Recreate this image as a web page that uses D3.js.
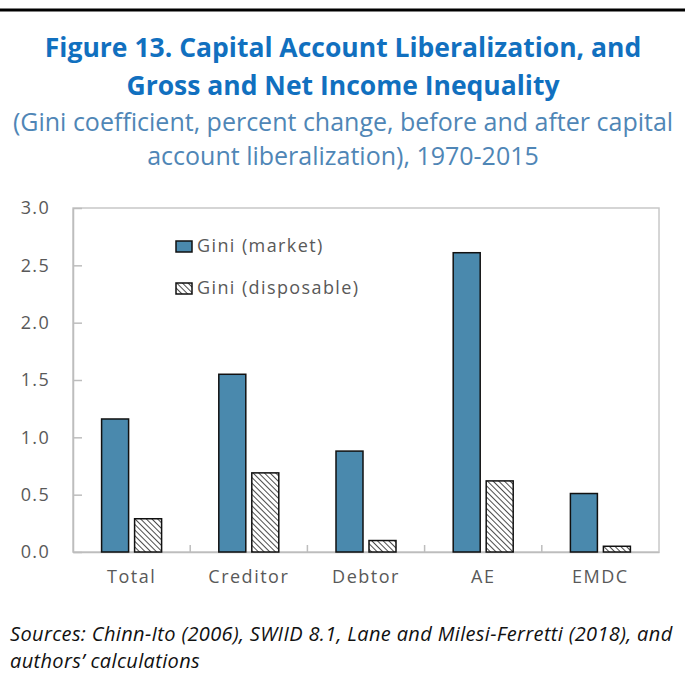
<!DOCTYPE html>
<html>
<head>
    <title></title>
    <meta charset="utf-8" />
    <style>
        body { margin: 0; background: #fff; }
    </style>
    <script src="https://d3js.org/d3.v7.min.js"></script>
</head>
<body>
<svg id="main-graph"></svg>
<script>

let categories = ["Total", "Creditor", "Debtor", "AE", "EMDC"];
let giniMarket = [1.16, 1.55, 0.88, 2.61, 0.51];
let giniDisposable = [0.29, 0.69, 0.10, 0.62, 0.05];
let seriesNames = ["Gini (market)", "Gini (disposable)"];
let yTicks = [0, 0.5, 1.0, 1.5, 2.0, 2.5, 3.0];

let realW = 685;
let realH = 688;

let svg = d3.select("#main-graph")
    .attr("width", realW)
    .attr("height", realH)
    .style("display", "block");

// hatch pattern for disposable
let defs = svg.append("defs");
let pat = defs.append("pattern")
    .attr("id", "hatch")
    .attr("patternUnits", "userSpaceOnUse")
    .attr("width", 4)
    .attr("height", 4)
    .attr("patternTransform", "rotate(-45)");
pat.append("rect").attr("width", 4).attr("height", 4).attr("fill", "#fff");
pat.append("line")
    .attr("x1", 0).attr("y1", 0).attr("x2", 0).attr("y2", 4)
    .attr("stroke", "#000").attr("stroke-width", 1.4);

// top rule
svg.append("line")
    .attr("x1", 0).attr("x2", realW)
    .attr("y1", 10).attr("y2", 10)
    .attr("stroke", "#000").attr("stroke-width", 3);

/* titles */
let titleFont = "'Open Sans', sans-serif";
svg.append("text")
    .attr("x", 343).attr("y", 57)
    .attr("text-anchor", "middle")
    .style("font-family", titleFont).style("font-weight", 700)
    .style("font-size", "26.5px").style("fill", "#1170bf")
    .text("Figure 13. Capital Account Liberalization, and");
svg.append("text")
    .attr("x", 343).attr("y", 95)
    .attr("text-anchor", "middle")
    .style("font-family", titleFont).style("font-weight", 700)
    .style("font-size", "26.5px").style("fill", "#1170bf")
    .text("Gross and Net Income Inequality");
svg.append("text")
    .attr("x", 343).attr("y", 131)
    .attr("text-anchor", "middle")
    .style("font-family", titleFont)
    .style("font-size", "25px").style("fill", "#4f86b6")
    .text("(Gini coefficient, percent change, before and after capital");
svg.append("text")
    .attr("x", 343).attr("y", 165)
    .attr("text-anchor", "middle")
    .style("font-family", titleFont)
    .style("font-size", "25px").style("fill", "#4f86b6")
    .text("account liberalization), 1970-2015");

/* chart */
let plot = { left: 73, right: 659, top: 208, bottom: 552 };

let x = d3.scaleBand()
    .domain(categories)
    .range([plot.left, plot.right]);

let y = d3.scaleLinear()
    .domain([0, 3])
    .range([plot.bottom, plot.top]);

let g = svg.append("g");

// plot frame
g.append("rect")
    .attr("x", plot.left).attr("y", plot.top)
    .attr("width", plot.right - plot.left)
    .attr("height", plot.bottom - plot.top)
    .attr("fill", "none")
    .attr("stroke", "#c8c8c8").attr("stroke-width", 1.5);

let axisColor = "#bdbdbd";
let labelColor = "#595959";
let axisFont = "'Open Sans', sans-serif";

let yAxis = g.append("g")
    .attr("transform", "translate(" + plot.left + ",0)")
    .call(d3.axisLeft(y).tickValues(yTicks).tickFormat(d3.format(".1f"))
        .tickSizeInner(-9).tickSizeOuter(0).tickPadding(23));
yAxis.select(".domain").attr("stroke", axisColor).attr("stroke-width", 1.5);
yAxis.selectAll(".tick line").attr("stroke", axisColor).attr("stroke-width", 1.5);
yAxis.selectAll(".tick text")
    .style("font-family", axisFont).style("font-size", "18px")
    .style("letter-spacing", "1.3px").style("fill", labelColor);

let xAxis = g.append("g")
    .attr("transform", "translate(0," + plot.bottom + ")")
    .call(d3.axisBottom(x).tickSize(0).tickPadding(18));
xAxis.select(".domain").attr("stroke", axisColor).attr("stroke-width", 1.5);
xAxis.selectAll(".tick text")
    .style("font-family", axisFont).style("font-size", "18px")
    .style("letter-spacing", "1.5px").style("fill", labelColor);

// category separators (inward ticks)
g.selectAll(".sep")
    .data(categories.slice(1))
    .enter()
    .append("line")
    .attr("x1", d => x(d)).attr("x2", d => x(d))
    .attr("y1", plot.bottom).attr("y2", plot.bottom - 7)
    .attr("stroke", axisColor).attr("stroke-width", 1.5);

let barW = 27;
let gap = 6;

g.selectAll(".bar-m")
    .data(categories)
    .enter()
    .append("rect")
    .attr("x", d => x(d) + x.bandwidth() / 2 - gap / 2 - barW)
    .attr("y", (d, i) => y(giniMarket[i]))
    .attr("width", barW)
    .attr("height", (d, i) => y(0) - y(giniMarket[i]))
    .attr("fill", "#4a89ad")
    .attr("stroke", "#111").attr("stroke-width", 1.5);

g.selectAll(".bar-d")
    .data(categories)
    .enter()
    .append("rect")
    .attr("x", d => x(d) + x.bandwidth() / 2 + gap / 2)
    .attr("y", (d, i) => y(giniDisposable[i]))
    .attr("width", barW)
    .attr("height", (d, i) => y(0) - y(giniDisposable[i]))
    .attr("fill", "url(#hatch)")
    .attr("stroke", "#111").attr("stroke-width", 1.5);

/* legend */
let legend = g.append("g").attr("transform", "translate(176,241)");
seriesNames.forEach((name, i) => {
    let row = legend.append("g").attr("transform", "translate(0," + (i * 42) + ")");
    row.append("rect")
        .attr("width", 16).attr("height", 11)
        .attr("fill", i === 0 ? "#4a89ad" : "url(#hatch)")
        .attr("stroke", "#111").attr("stroke-width", 1.5);
    row.append("text")
        .attr("x", 21).attr("y", 11)
        .style("font-family", axisFont).style("font-size", "18px")
        .style("letter-spacing", "1.4px").style("fill", labelColor)
        .text(name);
});

/* source note */
svg.append("text")
    .attr("x", 10).attr("y", 641)
    .style("font-family", axisFont).style("font-style", "italic")
    .style("font-size", "20px").style("letter-spacing", "0.35px").style("fill", "#111")
    .text("Sources: Chinn-Ito (2006), SWIID 8.1, Lane and Milesi-Ferretti (2018), and");
svg.append("text")
    .attr("x", 10).attr("y", 668)
    .style("font-family", axisFont).style("font-style", "italic")
    .style("font-size", "20px").style("letter-spacing", "0.35px").style("fill", "#111")
    .text("authors\u2019 calculations");

</script>
</body>
</html>
